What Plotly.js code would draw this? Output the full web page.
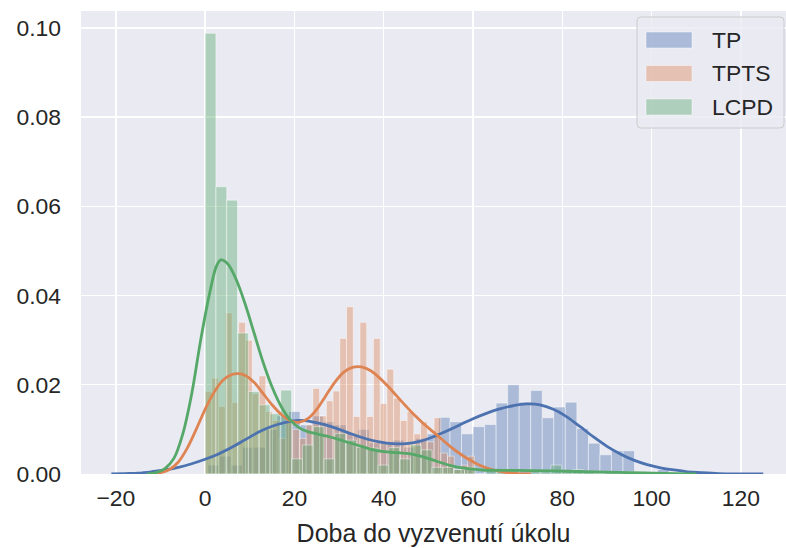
<!DOCTYPE html>
<html>
<head>
<meta charset="utf-8">
<script src="https://cdn.plot.ly/plotly-3.0.1.min.js"></script>
<style>html,body{margin:0;padding:0;background:#fff;}#chart{width:786px;height:548px;}</style>
</head>
<body>
<div id="chart"></div>
<script>
// ---- series names ----
const seriesNames = ["TP", "TPTS", "LCPD"];

// ---- histogram bins (density) ----
const tpBinStart = 0.6, tpBinWidth = 2.583;
const tpHist = [0.002, 0.004, 0.002, 0.006, 0.006, 0.010, 0.013, 0.014, 0.011, 0.013,
                0.0117, 0.011, 0.009, 0.010, 0.007, 0.007, 0.0076, 0.006, 0.008, 0.009,
                0.0127, 0.0117, 0.009, 0.0106, 0.0111, 0.0159, 0.0200, 0.0161, 0.0187, 0.0126,
                0.0150, 0.0161, 0.0102, 0.0069, 0.0043, 0.0052, 0.0052, 0.0, 0.0005, 0.001];

const tptsBinStart = 0.0, tptsBinWidth = 1.508;
const tptsHist = [0.0185, 0.0215, 0.0151, 0.0361, 0.016, 0.034, 0.030, 0.018, 0.022, 0.014,
                  0.012, 0.008, 0.012, 0.010, 0.008, 0.011, 0.0192, 0.013, 0.0164, 0.0186,
                  0.0304, 0.0375, 0.0129, 0.0340, 0.0129, 0.0304, 0.0158, 0.0235, 0.017, 0.012,
                  0.014, 0.009, 0.0117, 0.0072, 0.0126, 0.0047, 0.004, 0.001, 0.002, 0.004];

const lcpdBinStart = 0.0, lcpdBinWidth = 2.42;
const lcpdHist = [0.0988, 0.0644, 0.0614, 0.0316, 0.0185, 0.0155, 0.0135, 0.0188, 0.0034, 0.0065,
                  0.0106, 0.0034, 0.0091, 0.0076, 0.006, 0.0058, 0.002, 0.0059, 0.0034, 0.0065,
                  0.0054, 0.0015, 0.0015, 0.001, 0.0015, 0.0, 0.001, 0.0005, 0.001, 0.0,
                  0.0005, 0.0005, 0.002, 0.0005, 0.001, 0.0005, 0.0, 0.0005, 0.0, 0.0005];

// ---- KDE curves ----
const tpKdeX = [-21, -18, -15, -12, -9, -6, -3, 0, 3, 6, 9, 12, 15, 18, 21, 24, 27, 30, 33, 36, 39, 42, 45, 48, 51, 54, 57, 60, 63, 66, 69, 72, 75, 78, 81, 84, 87, 90, 93, 96, 99, 102, 105, 108, 111, 115, 120, 125];
const tpKdeY = [0, 0.0001, 0.0002, 0.0005, 0.0009, 0.0015, 0.0023, 0.0033, 0.0045, 0.006, 0.0077, 0.0094, 0.0107, 0.0116, 0.0120, 0.0117, 0.0110, 0.0100, 0.0089, 0.0079, 0.0072, 0.0068, 0.0068, 0.0073, 0.0083, 0.0096, 0.0110, 0.0124, 0.0136, 0.0146, 0.0153, 0.0157, 0.0155, 0.0145, 0.0128, 0.0106, 0.0083, 0.0062, 0.0045, 0.0031, 0.0021, 0.0014, 0.0009, 0.0005, 0.0003, 0.0001, 0.00003, 0];

const tptsKdeX = [-12, -10, -8, -6, -4, -2, 0, 2, 4, 6, 7.5, 9, 11, 13, 15, 17, 19, 21, 23, 25, 27, 29, 31, 33, 35, 37, 39, 41, 43, 45, 47, 49, 51, 53, 55, 57, 59, 61, 63, 65, 67, 70, 73];
const tptsKdeY = [0, 0.0003, 0.0010, 0.0027, 0.0058, 0.0100, 0.0145, 0.0183, 0.0210, 0.0223, 0.0225, 0.0221, 0.0205, 0.0180, 0.0155, 0.0134, 0.0120, 0.0116, 0.0124, 0.0145, 0.0175, 0.0205, 0.0228, 0.0239, 0.0240, 0.0232, 0.0216, 0.0196, 0.0174, 0.0152, 0.0131, 0.0112, 0.0095, 0.0078, 0.0061, 0.0046, 0.0033, 0.0022, 0.0014, 0.0008, 0.0004, 0.0001, 0];

const lcpdKdeX = [-13, -11, -9, -7, -5, -3, -1, 1, 2.5, 3.5, 5, 7, 9, 11, 13, 15, 17, 19, 21, 23, 25, 28, 31, 34, 37, 40, 43, 46, 49, 52, 55, 58, 62, 70, 78, 85, 95, 100, 105, 110];
const lcpdKdeY = [0, 0.0003, 0.0012, 0.0035, 0.009, 0.018, 0.030, 0.0405, 0.0465, 0.048, 0.0472, 0.0435, 0.038, 0.0315, 0.025, 0.0195, 0.0152, 0.0122, 0.0104, 0.0095, 0.0090, 0.0083, 0.0074, 0.0065, 0.0056, 0.0050, 0.0048, 0.0045, 0.0038, 0.0028, 0.0019, 0.0013, 0.0009, 0.0008, 0.0007, 0.0005, 0.0003, 0.0002, 0.0001, 0];

// ---- styling ----
const colors = ["#4C72B0", "#DD8452", "#55A868"];
const fillColors = ["rgba(76,114,176,0.4)", "rgba(221,132,82,0.4)", "rgba(85,168,104,0.4)"];

const W = 786, H = 548;
const M = { l: 81, r: 0, t: 11, b: 74 };
const plotW = W - M.l - M.r, plotH = H - M.t - M.b;
const px2x = p => (p - M.l) / plotW;
const px2y = p => (H - M.b - p) / plotH;

function centers(start, width, n) {
  const c = [];
  for (let i = 0; i < n; i++) c.push(start + width * (i + 0.5));
  return c;
}

const hists = [
  [tpBinStart, tpBinWidth, tpHist],
  [tptsBinStart, tptsBinWidth, tptsHist],
  [lcpdBinStart, lcpdBinWidth, lcpdHist]
];
const kdes = [[tpKdeX, tpKdeY], [tptsKdeX, tptsKdeY], [lcpdKdeX, lcpdKdeY]];

const traces = [];
hists.forEach((h, i) => {
  traces.push({
    type: "bar",
    name: seriesNames[i],
    x: centers(h[0], h[1], h[2].length),
    y: h[2],
    width: h[1],
    marker: { color: fillColors[i], line: { color: "rgba(255,255,255,0.45)", width: 1 } },
    showlegend: false
  });
});
kdes.forEach((k, i) => {
  traces.push({
    type: "scatter",
    mode: "lines",
    name: seriesNames[i] + " KDE",
    x: k[0],
    y: k[1],
    line: { color: colors[i], width: 2.8, shape: "spline", smoothing: 1 },
    showlegend: false
  });
});

// ---- legend (matplotlib style: wide patches in a rounded frame) ----
function roundedRect(x0, y0, x1, y1, r) {
  const X = px2x, Y = px2y;
  return "M" + X(x0 + r) + "," + Y(y0) +
    " L" + X(x1 - r) + "," + Y(y0) +
    " Q" + X(x1) + "," + Y(y0) + " " + X(x1) + "," + Y(y0 + r) +
    " L" + X(x1) + "," + Y(y1 - r) +
    " Q" + X(x1) + "," + Y(y1) + " " + X(x1 - r) + "," + Y(y1) +
    " L" + X(x0 + r) + "," + Y(y1) +
    " Q" + X(x0) + "," + Y(y1) + " " + X(x0) + "," + Y(y1 - r) +
    " L" + X(x0) + "," + Y(y0 + r) +
    " Q" + X(x0) + "," + Y(y0) + " " + X(x0 + r) + "," + Y(y0) + " Z";
}
const legBox = { x0: 637, y0: 17, x1: 784, y1: 128 };
const legRowY = [40, 73.5, 107];
const shapes = [{
  type: "path", xref: "paper", yref: "paper",
  path: roundedRect(legBox.x0, legBox.y0, legBox.x1, legBox.y1, 4),
  fillcolor: "rgba(234,234,242,0.8)", line: { color: "#CCCCCC", width: 1 }
}];
const annotations = [];
seriesNames.forEach((name, i) => {
  shapes.push({
    type: "rect", xref: "paper", yref: "paper",
    x0: px2x(646), x1: px2x(692), y0: px2y(legRowY[i] + 8), y1: px2y(legRowY[i] - 8),
    fillcolor: fillColors[i], line: { color: "rgba(255,255,255,0.45)", width: 1 }
  });
  annotations.push({
    xref: "paper", yref: "paper", x: px2x(710), y: px2y(legRowY[i]),
    xanchor: "left", yanchor: "middle", showarrow: false,
    text: name, font: { size: 22.9, color: "#262626" }
  });
});

const layout = {
  width: W,
  height: H,
  margin: M,
  paper_bgcolor: "#ffffff",
  plot_bgcolor: "#EAEAF2",
  barmode: "overlay",
  showlegend: false,
  font: { family: "Liberation Sans, Arial, sans-serif", size: 22.9, color: "#262626" },
  xaxis: {
    range: [-27.8, 130.1],
    tickmode: "linear", tick0: 0, dtick: 20,
    showgrid: true, gridcolor: "#ffffff", gridwidth: 1.4,
    zeroline: false, showline: false, ticks: "",
    ticklabelstandoff: 8,
    tickfont: { size: 22.9, color: "#262626" },
    title: { text: "Doba do vyzvenutí úkolu", font: { size: 25, color: "#262626" }, standoff: 14 }
  },
  yaxis: {
    range: [0, 0.1038],
    tickmode: "linear", tick0: 0, dtick: 0.02, tickformat: ".2f",
    showgrid: true, gridcolor: "#ffffff", gridwidth: 1.4,
    zeroline: false, showline: false, ticks: "",
    ticklabelstandoff: 19,
    tickfont: { size: 22.9, color: "#262626" }
  },
  shapes: shapes,
  annotations: annotations
};

Plotly.newPlot("chart", traces, layout, { displayModeBar: false, staticPlot: true });
</script>
</body>
</html>
